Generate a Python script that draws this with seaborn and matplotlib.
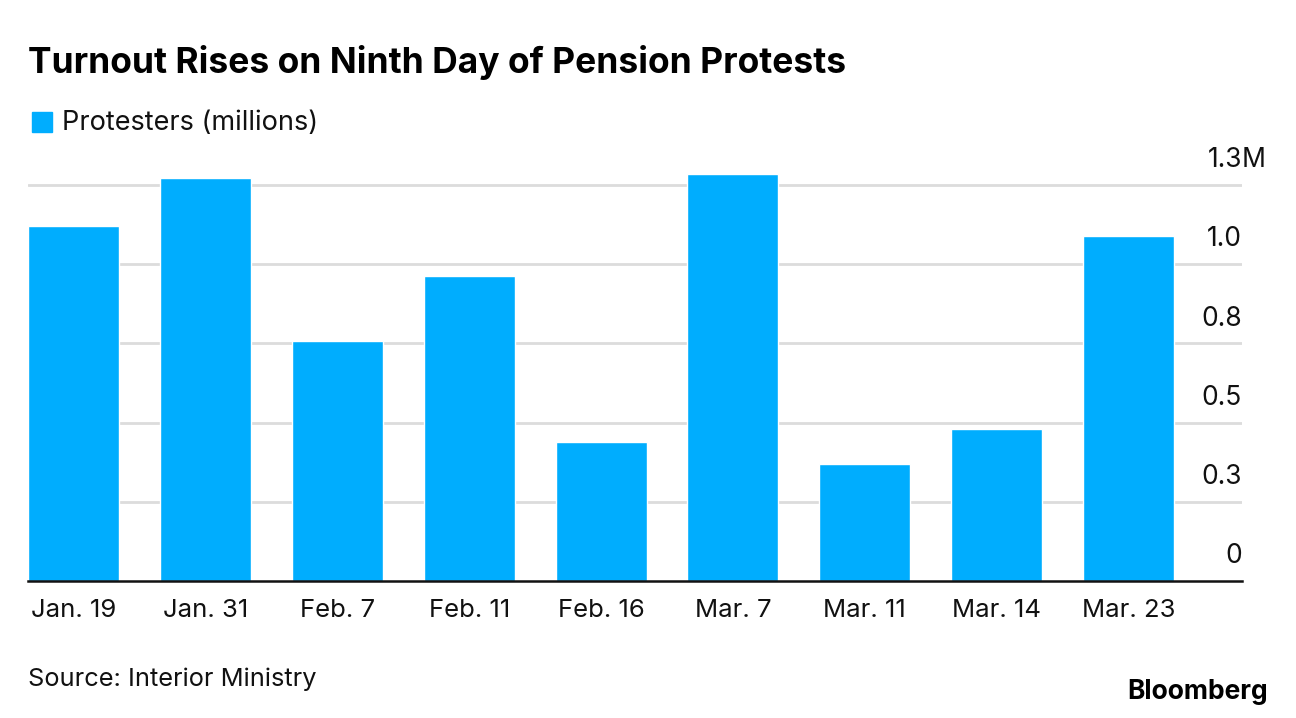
import pandas as pd
import seaborn as sns
import matplotlib.pyplot as plt
from matplotlib.patches import Rectangle

dates = ["Jan. 19", "Jan. 31", "Feb. 7", "Feb. 11", "Feb. 16",
         "Mar. 7", "Mar. 11", "Mar. 14", "Mar. 23"]
protesters = [1.12, 1.272, 0.757, 0.963, 0.44, 1.285, 0.368, 0.48, 1.089]

tick_vals = [0, 0.25, 0.5, 0.75, 1.0, 1.25]
tick_labels = ["0", "0.3", "0.5", "0.8", "1.0", "1.3"]

df = pd.DataFrame({"date": dates, "protesters": protesters})

sns.set_style("white")
plt.rcParams["font.family"] = ["Inter", "DejaVu Sans"]

blue = "#00adfe"

fig = plt.figure(figsize=(12.96, 7.18), dpi=100)
ax = fig.add_axes([28 / 1296, 137 / 718, 1214 / 1296, 431 / 718])

sns.barplot(data=df, x="date", y="protesters", color=blue, width=0.69,
            saturation=1, ax=ax, zorder=3)

ax.set_xlim(-0.345, 8.86)
ax.set_ylim(0, 1.36)
ax.set_xlabel("")
ax.set_ylabel("")
ax.set_yticks([])
ax.tick_params(axis="x", length=0, labelsize=18.5, pad=13, colors="#111111")

for v, lab in zip(tick_vals, tick_labels):
    if v > 0:
        ax.axhline(v, color="#dcdcdc", lw=2, zorder=1)
    ax.annotate(lab, xy=(1.0, v), xycoords=("axes fraction", "data"),
                xytext=(0, 8.5), textcoords="offset points",
                ha="right", va="bottom", fontsize=19, color="#111111")
# unit suffix on the top label
ax.annotate("M", xy=(1.0, tick_vals[-1]), xycoords=("axes fraction", "data"),
            xytext=(0, 8.5), textcoords="offset points",
            ha="left", va="bottom", fontsize=19, color="#111111")

for s in ["top", "right", "left"]:
    ax.spines[s].set_visible(False)
ax.spines["bottom"].set_color("#111111")
ax.spines["bottom"].set_linewidth(1.8)
ax.spines["bottom"].set_zorder(4)

fig.text(28 / 1296, 1 - 63 / 718, "Turnout Rises on Ninth Day of Pension Protests",
         fontsize=25.5, fontweight="bold", va="center", ha="left", color="black")
fig.patches.append(Rectangle((32 / 1296, 1 - 132 / 718), 20 / 1296, 20 / 718,
                             transform=fig.transFigure, color=blue))
fig.text(62 / 1296, 1 - 123 / 718, "Protesters (millions)", fontsize=19.5,
         va="center", ha="left", color="#111111")
fig.text(28 / 1296, 1 - 679 / 718, "Source: Interior Ministry", fontsize=18.3,
         va="center", ha="left", color="#111111")
fig.text(1268 / 1296, 1 - 692 / 718, "Bloomberg", fontsize=19, fontweight="bold",
         va="center", ha="right", color="black")

fig.savefig("out.png", dpi=100)
